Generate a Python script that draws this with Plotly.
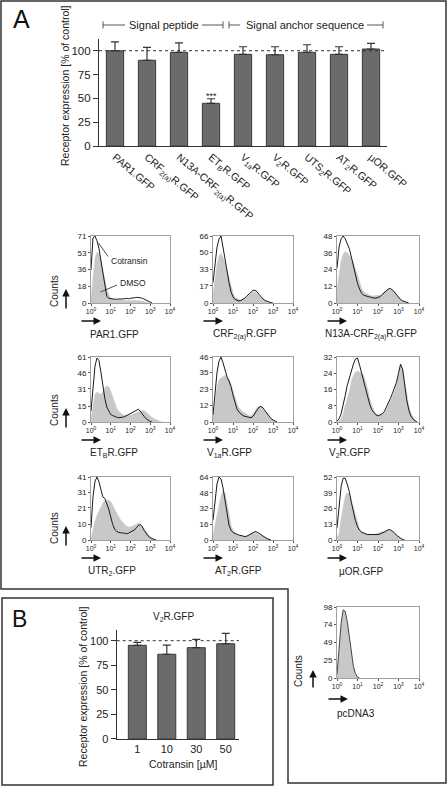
import plotly.graph_objects as go

FIG_W, FIG_H = 448, 786
FONT = "Arial, Liberation Sans, sans-serif"

# ---------------- Panel A: bar chart data ----------------
RECEPTORS = ["PAR1.GFP", "CRF<sub>2(a)</sub>R.GFP", "N13A-CRF<sub>2(a)</sub>R.GFP",
             "ET<sub>B</sub>R.GFP", "V<sub>1a</sub>R.GFP", "V<sub>2</sub>R.GFP",
             "UTS<sub>2</sub>R.GFP", "AT<sub>2</sub>R.GFP", "µOR.GFP"]
EXPRESSION = [100, 90, 98.3, 44.8, 96.2, 95.8, 98.3, 96.2, 101.8]
EXPRESSION_ERR = [9.4, 13.6, 10, 4.8, 8, 8.4, 8, 8, 6]
Y_TICKS_BAR = [0, 25, 50, 75, 100]

# ---------------- Panel B: bar chart data ----------------
COTRANSIN_CONC = ["1", "10", "30", "50"]
V2R_EXPRESSION = [95.3, 86.2, 92.9, 96.9]
V2R_ERR = [3.1, 9.4, 8.5, 10.6]

# ---------------- Histogram data (counts per log-fluorescence bin) ----------------
LOG_FLUORESCENCE = [0.0, 0.1, 0.2, 0.3, 0.4, 0.5, 0.6, 0.7, 0.8, 0.9,
                    1.0, 1.1, 1.2, 1.3, 1.4, 1.5, 1.6, 1.7, 1.8, 1.9,
                    2.0, 2.1, 2.2, 2.3, 2.4, 2.5, 2.6, 2.7, 2.8, 2.9,
                    3.0, 3.1, 3.2, 3.3, 3.4, 3.5, 3.6, 3.7, 3.8, 3.9]
X_TICK_VALS = [0, 1, 2, 3, 4]
X_TICK_TEXT = ["10<sup>0</sup>", "10<sup>1</sup>", "10<sup>2</sup>", "10<sup>3</sup>", "10<sup>4</sup>"]

PAR1_COTRANSIN = [35, 69, 71, 66, 58, 45, 30, 15, 7, 5, 4.5, 4.5, 4, 4, 4, 4.5, 4, 4.5, 5, 4.5,
                  5, 5, 5.5, 6, 6, 5.5, 5, 4, 2.5, 1.5, 0.5, 0]
PAR1_DMSO = [5, 30, 47, 54, 52, 45, 35, 24, 15, 9, 5, 4, 3.5, 3, 3, 3, 3, 3, 3, 3,
             3, 3, 3, 3, 3, 2.5, 2, 1.5, 1, 0.5, 0]
CRF_COTRANSIN = [20, 40, 55, 63, 66, 55, 42, 30, 20, 11, 6, 3.5, 2.5, 2, 2.5, 3.5, 5, 7, 9, 11,
                 12.5, 12.5, 11, 8.5, 6, 4, 2.5, 1.5, 0.8, 0.3, 0]
CRF_DMSO = [8, 25, 38, 46, 49, 45, 40, 33, 25, 17, 10, 6, 4.5, 3.5, 3, 3.5, 4.5, 6, 8, 10,
            11, 11, 9.5, 7.5, 5, 3, 2, 1, 0.5, 0]
N13A_COTRANSIN = [25, 40, 46, 48, 46, 43, 39, 33, 26, 19, 14, 10, 7, 5.5, 5, 4.5, 4, 4, 3.5, 3.5,
                  4, 4.5, 6, 7.5, 9, 10, 10.5, 9.5, 8, 6, 4, 2.5, 1.5, 0.8, 0.3, 0]
N13A_DMSO = [10, 22, 30, 35, 37, 36, 34, 32, 29, 24, 19, 14, 10.5, 8, 7, 6, 5.5, 5, 5, 5,
             5, 5.5, 6.5, 8, 9, 10, 10, 9.5, 8, 6, 4, 2.5, 1.5, 0.5, 0]
ETB_COTRANSIN = [10, 35, 52, 60, 58, 47, 34, 22, 14, 10, 7, 6, 5, 4.5, 4, 4, 4.5, 5, 6, 7,
                 8, 9, 10, 11, 12, 10, 7, 5, 3, 1.5, 0.5, 0]
ETB_DMSO = [2, 15, 26, 28, 27, 26, 28, 32, 34, 33, 29, 23, 17, 13, 10, 8, 7, 6, 6, 6,
            6.5, 7, 8, 9, 10, 10.5, 11, 10.5, 9, 7, 5, 4, 3, 2, 1, 0.5, 0]
V1A_COTRANSIN = [5, 20, 35, 43, 46, 42, 36, 32, 29, 25, 19, 13, 9, 7, 5.5, 4.5, 4, 3.5, 3, 3,
                 4, 6, 8.5, 10.5, 11, 10, 8, 6, 4, 2.5, 1.5, 0.7, 0]
V1A_DMSO = [3, 15, 25, 30, 31, 32, 33, 32, 30, 27, 22, 17, 13, 10, 8.5, 7, 6.5, 5.5, 4.5, 4.5,
            5.5, 8, 10, 11, 10.5, 9, 8, 6, 4, 2.5, 1.2, 0.5, 0]
V2_COTRANSIN = [0.5, 1.5, 4, 8, 13, 18, 22, 26, 28.5, 31, 31.5, 28, 24, 20, 15.5, 11.5, 8.5, 6, 4.5, 3.5,
                3, 3.5, 4, 5, 7, 9, 11.5, 14, 16.5, 19.5, 24, 28.5, 26, 18, 11, 6, 3, 1.5, 0.5, 0]
V2_DMSO = [0, 0.5, 1.5, 4, 8, 11, 15, 20, 23, 24.5, 25, 24.5, 24, 23, 20, 16, 11.5, 8, 5.5, 4,
           3.5, 3.5, 4, 4.5, 6, 8, 10.5, 12.5, 15, 18.5, 23, 28, 26.5, 20, 13, 8, 4.5, 2.5, 1, 0]
UTR2_COTRANSIN = [8, 28, 38, 41, 38, 33, 28, 27, 24, 20, 15, 10, 7, 5.5, 5, 4.5, 4.5, 4.5, 4, 4.5,
                  5, 5.5, 6.5, 8, 9.5, 10, 8.5, 6, 4, 2.5, 1.5, 0.7, 0.3, 0]
UTR2_DMSO = [1, 7, 12, 16, 19, 22, 24, 25.5, 26, 26, 25, 22, 20, 17.5, 15, 13, 11.5, 10, 9, 8.5,
             8.5, 9, 9.5, 10.5, 11, 10.5, 9, 7.5, 5.5, 3.5, 2, 1, 0.5, 0]
AT2_COTRANSIN = [20, 42, 57, 64, 62, 53, 42, 28, 15, 10, 7.5, 6.5, 5.5, 5, 4.5, 4, 3.5, 4, 5, 6.5,
                 7.5, 8.5, 8, 7, 5.5, 4, 2.5, 1.5, 0.5, 0]
AT2_DMSO = [5, 15, 24, 35, 45, 49, 48, 38, 25, 15, 10, 7, 5, 4.5, 4, 3.5, 3.5, 4, 5, 6,
            7, 7, 6.5, 5.5, 4.5, 3.5, 2.5, 1.5, 0.5, 0]
MUOR_COTRANSIN = [10, 28, 44, 51, 51, 46, 40, 31, 23, 16, 11, 8, 6.5, 5.5, 5, 4.5, 4.5, 4, 4, 4,
                  4.5, 5, 5.5, 6.5, 7.5, 8.5, 8.5, 7.5, 6, 4, 2.5, 1.5, 0.5, 0]
MUOR_DMSO = [2, 5, 18, 29, 36, 39, 38, 33, 27, 19, 13, 9, 7, 6, 5.5, 5, 4.5, 4.5, 4.5, 5,
             5.5, 6, 6.5, 7, 8, 8.5, 8, 7, 5.5, 4, 2.5, 1.5, 0.5, 0]
PCDNA3_COUNTS = [5, 38, 75, 94, 92, 78, 56, 34, 16, 6, 1, 0]

HIST_LABELS = ["PAR1.GFP", "CRF<sub>2(a)</sub>R.GFP", "N13A-CRF<sub>2(a)</sub>R.GFP",
               "ET<sub>B</sub>R.GFP", "V<sub>1a</sub>R.GFP", "V<sub>2</sub>R.GFP",
               "UTR<sub>2</sub>.GFP", "AT<sub>2</sub>R.GFP", "µOR.GFP"]
HIST_COTRANSIN = [PAR1_COTRANSIN, CRF_COTRANSIN, N13A_COTRANSIN, ETB_COTRANSIN, V1A_COTRANSIN,
                  V2_COTRANSIN, UTR2_COTRANSIN, AT2_COTRANSIN, MUOR_COTRANSIN]
HIST_DMSO = [PAR1_DMSO, CRF_DMSO, N13A_DMSO, ETB_DMSO, V1A_DMSO, V2_DMSO, UTR2_DMSO, AT2_DMSO, MUOR_DMSO]
HIST_Y_TICKS = [[0, 18, 36, 53, 71], [0, 17, 33, 50, 66], [0, 12, 24, 36, 48],
                [0, 15, 31, 46, 61], [0, 12, 23, 35, 46], [0, 8, 16, 24, 32],
                [0, 10, 21, 31, 41], [0, 16, 32, 48, 64], [0, 13, 26, 39, 52]]
PCDNA3_Y_TICKS = [0, 25, 49, 74, 98]

# ---------------- layout geometry (pixels) ----------------
COL_LEFT = [91, 213, 337]
COL_RIGHT = [170, 293, 419]
ROW_TOP = [236, 357, 477]
ROW_BOTTOM = [303, 422, 540]
LABEL_LEFT = [[88, 211, 323], [88, 205, 327], [86, 213, 337]]


def fx(p):
    return p / FIG_W


def fy(p):
    return 1 - p / FIG_H


BAR_FILL = "#6b6b6b"
BAR_EDGE = "#3a3a3a"
DARK = "#222222"
GRAY_FILL = "#c8c8c8"
FRAME = "#a0a0a0"

fig = go.Figure()
layout = dict(
    template="none",
    width=FIG_W, height=FIG_H, margin=dict(l=0, r=0, t=0, b=0, pad=0, autoexpand=False),
    paper_bgcolor="white", plot_bgcolor="rgba(0,0,0,0)",
    font=dict(family=FONT, color=DARK, size=10),
    showlegend=False, hovermode=False,
)
annotations = []
shapes = []


def text_at(xp, yp, text, size, xanchor="center", angle=0, color=DARK):
    annotations.append(dict(x=fx(xp), y=fy(yp), xref="paper", yref="paper", text=text,
                            showarrow=False, xanchor=xanchor, yanchor="middle",
                            textangle=angle, font=dict(size=size, color=color)))


def arrow_at(tip_x, tip_y, dx, dy):
    annotations.append(dict(x=fx(tip_x), y=fy(tip_y), xref="paper", yref="paper",
                            ax=dx, ay=dy, text="", showarrow=True, arrowhead=2,
                            arrowsize=1, arrowwidth=1.5, arrowcolor="#111",
                            xanchor="center", yanchor="middle"))


def pline(x0, y0, x1, y1, color="#555", width=1):
    shapes.append(dict(type="line", xref="paper", yref="paper", x0=fx(x0), y0=fy(y0),
                       x1=fx(x1), y1=fy(y1), line=dict(color=color, width=width)))


# ---------------- Panel A bar chart ----------------
fig.add_trace(go.Bar(
    x=RECEPTORS, y=EXPRESSION, width=0.54,
    marker=dict(color=BAR_FILL, line=dict(color=BAR_EDGE, width=1)),
    error_y=dict(type="data", array=EXPRESSION_ERR, arrayminus=[0] * len(EXPRESSION_ERR),
                 symmetric=False, color="#333", thickness=1.2, width=4),
    xaxis="x", yaxis="y"))
layout["xaxis"] = dict(domain=[fx(99), fx(387)], type="category", range=[-0.5, 8.5],
                       showline=True, linecolor="#333", linewidth=1.2, ticks="",
                       tickangle=40, tickfont=dict(size=10.5), anchor="y",
                       showgrid=False, zeroline=False, automargin=False)
layout["yaxis"] = dict(domain=[fy(146), fy(39.3)], range=[0, 112], tickvals=Y_TICKS_BAR,
                       ticks="outside", ticklen=5, tickcolor="#333", showline=True,
                       linecolor="#333", linewidth=1.2, tickfont=dict(size=11.5),
                       anchor="x", showgrid=False, zeroline=False, automargin=False)
shapes.append(dict(type="line", xref="x domain", yref="y", x0=0, x1=1, y0=100, y1=100,
                   line=dict(color="#333", width=1, dash="dot")))
annotations.append(dict(x="ET<sub>B</sub>R.GFP", y=52, xref="x", yref="y", text="***",
                        showarrow=False, xanchor="center", yanchor="middle",
                        font=dict(size=9)))
text_at(21, 19, "A", 25, color="#111")
text_at(65, 86, "Receptor expression [% of control]", 10.5, angle=-90)
# group brackets
for (x0, x1, t0, t1, cx, label) in [(103, 223, 125, 202, 164, "Signal peptide"),
                                     (229, 383, 240, 367, 305, "Signal anchor sequence")]:
    pline(x0, 25, t0, 25)
    pline(t1, 25, x1, 25)
    for xc in (x0, x1):
        pline(xc, 21.5, xc, 28.5)
    text_at(cx, 25, label, 11)


# ---------------- Histograms ----------------
def hist_axes(k, left, right, top, bottom, yticks):
    layout[f"xaxis{k}"] = dict(domain=[fx(left), fx(right)], range=[0, 4], anchor=f"y{k}",
                               tickvals=X_TICK_VALS, ticktext=X_TICK_TEXT, ticks="outside",
                               ticklen=2, tickcolor="#555", showline=True, mirror=True,
                               linecolor=FRAME, linewidth=1, tickfont=dict(size=7),
                               showgrid=False, zeroline=False, automargin=False)
    layout[f"yaxis{k}"] = dict(domain=[fy(bottom), fy(top)], range=[0, yticks[-1]],
                               anchor=f"x{k}", tickvals=yticks, ticks="outside", ticklen=2,
                               tickcolor="#555", showline=True, mirror=True, linecolor=FRAME,
                               linewidth=1, tickfont=dict(size=8), showgrid=False,
                               zeroline=False, automargin=False)


for idx in range(9):
    r, c = divmod(idx, 3)
    k = idx + 2
    left, right, top, bottom = COL_LEFT[c], COL_RIGHT[c], ROW_TOP[r], ROW_BOTTOM[r]
    dmso = HIST_DMSO[idx]
    cot = HIST_COTRANSIN[idx]
    fig.add_trace(go.Scatter(x=LOG_FLUORESCENCE[:len(dmso)], y=dmso, mode="lines",
                             fill="tozeroy", fillcolor=GRAY_FILL,
                             line=dict(color=GRAY_FILL, width=0.5),
                             xaxis=f"x{k}", yaxis=f"y{k}"))
    fig.add_trace(go.Scatter(x=LOG_FLUORESCENCE[:len(cot)], y=cot, mode="lines",
                             line=dict(color="#1a1a1a", width=1),
                             xaxis=f"x{k}", yaxis=f"y{k}"))
    hist_axes(k, left, right, top, bottom, HIST_Y_TICKS[idx])
    arrow_at(left + 10, bottom + 18, -21, 0)
    text_at(LABEL_LEFT[r][c], bottom + 31, HIST_LABELS[idx], 10, xanchor="left")
    if c == 0:
        text_at(54, bottom - 12, "Counts", 10, angle=-90)
        arrow_at(66, bottom - 14, 0, 21)

# Cotransin / DMSO call-outs in the first histogram
pline(98.5, 243, 108, 256.5, color="#222", width=0.8)
pline(117, 285, 100.5, 292, color="#222", width=0.8)
text_at(109, 261, "Cotransin", 8.5, xanchor="left")
text_at(118, 283, "DMSO", 8.5, xanchor="left")

# pcDNA3 control histogram
k = 11
fig.add_trace(go.Scatter(x=LOG_FLUORESCENCE[:len(PCDNA3_COUNTS)], y=PCDNA3_COUNTS, mode="lines",
                         fill="tozeroy", fillcolor=GRAY_FILL, line=dict(color="#444", width=1),
                         xaxis=f"x{k}", yaxis=f"y{k}"))
hist_axes(k, 337, 419, 607, 678, PCDNA3_Y_TICKS)
arrow_at(348, 699, -21, 0)
text_at(335, 713, "pcDNA3", 10, xanchor="left")
text_at(298, 671, "Counts", 10, angle=-90)
arrow_at(313, 670, 0, 19)

# ---------------- Panel B ----------------
fig.add_trace(go.Bar(
    x=COTRANSIN_CONC, y=V2R_EXPRESSION, width=0.61,
    marker=dict(color=BAR_FILL, line=dict(color=BAR_EDGE, width=1)),
    error_y=dict(type="data", array=V2R_ERR, arrayminus=[0] * len(V2R_ERR), symmetric=False,
                 color="#333", thickness=1.2, width=4),
    xaxis="x12", yaxis="y12"))
layout["xaxis12"] = dict(domain=[fx(116.7), fx(239)], type="category", range=[-0.7, 3.45],
                         showline=True, linecolor="#333", linewidth=1.2, ticks="",
                         tickfont=dict(size=11), anchor="y12", showgrid=False, zeroline=False,
                         automargin=False)
layout["yaxis12"] = dict(domain=[fy(739), fy(739 - 111 * 0.983)], range=[0, 111],
                         tickvals=Y_TICKS_BAR, ticks="outside", ticklen=5, tickcolor="#333",
                         showline=True, linecolor="#333", linewidth=1.2,
                         tickfont=dict(size=11), anchor="x12", showgrid=False, zeroline=False,
                         automargin=False)
shapes.append(dict(type="line", xref="x12 domain", yref="y12", x0=0, x1=1, y0=100, y1=100,
                   line=dict(color="#333", width=1, dash="dot")))
text_at(19, 619, "B", 23, color="#111")
text_at(173, 617, "V<sub>2</sub>R.GFP", 10)
text_at(83, 687, "Receptor expression [% of control]", 10.5, angle=-90)
text_at(183, 764, "Cotransin [µM]", 10.5)

# ---------------- Panel frames ----------------
path_a = (f"M {fx(1)},{fy(1)} L {fx(446)},{fy(1)} L {fx(446)},{fy(783)} "
          f"L {fx(288)},{fy(783)} L {fx(288)},{fy(589)} L {fx(1)},{fy(589)} Z")
shapes.append(dict(type="path", xref="paper", yref="paper", path=path_a,
                   line=dict(color="#333", width=1.5)))
shapes.append(dict(type="rect", xref="paper", yref="paper", x0=fx(2), x1=fx(273),
                   y0=fy(785), y1=fy(598), line=dict(color="#333", width=1.5)))

layout["annotations"] = annotations
layout["shapes"] = shapes
fig.update_layout(**layout)
fig.write_html("out.html", config={"displayModeBar": False},
               post_script="document.body.style.margin='0px';"
                           "document.body.style.padding='0px';"
                           "document.body.style.overflow='hidden';")
